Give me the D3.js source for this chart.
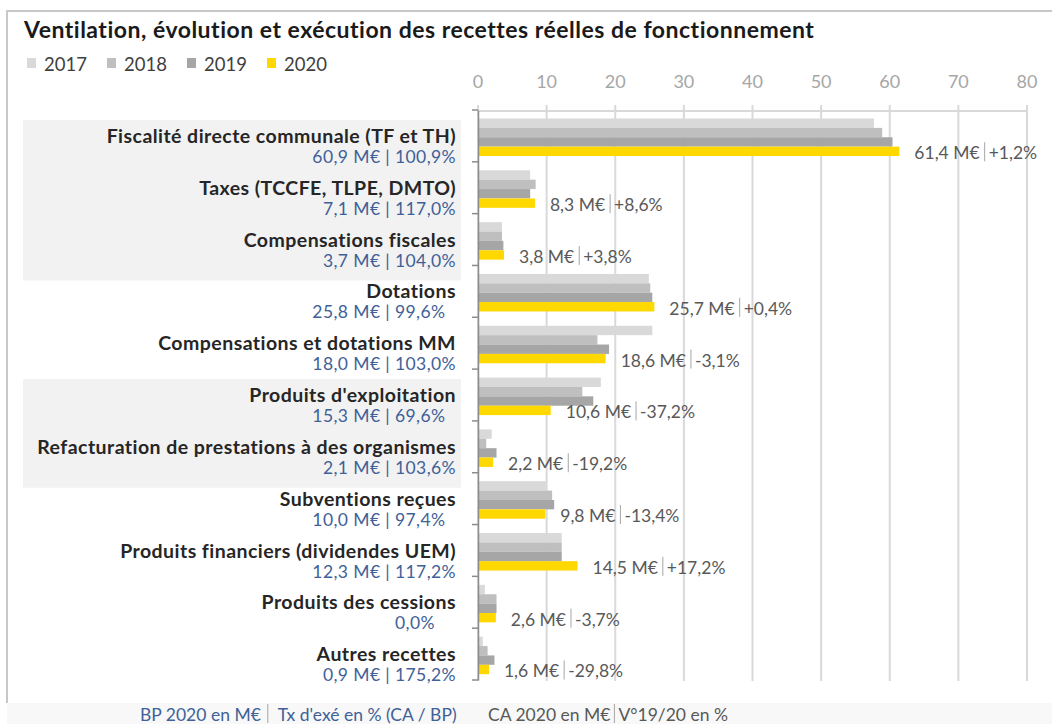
<!DOCTYPE html>
<html lang="fr">
<head>
<meta charset="utf-8">
<title>Recettes réelles de fonctionnement</title>
<script src="https://d3js.org/d3.v7.min.js"></script>
<style>
  body { margin: 0; background: #fff; }
  svg { display: block; font-family: Lato, "Open Sans", sans-serif; }
  text { white-space: pre; }
</style>
</head>
<body>
<script>
// categories, top to bottom
var categories = [
  "Fiscalité directe communale (TF et TH)",
  "Taxes (TCCFE, TLPE, DMTO)",
  "Compensations fiscales",
  "Dotations",
  "Compensations et dotations MM",
  "Produits d'exploitation",
  "Refacturation de prestations à des organismes",
  "Subventions reçues",
  "Produits financiers (dividendes UEM)",
  "Produits des cessions",
  "Autres recettes"
];
var years = ["2017", "2018", "2019", "2020"];
var yearColors = ["#d9d9d9", "#bfbfbf", "#a6a6a6", "#ffd800"];

// M€ per year
var v2017 = [57.7, 7.6, 3.5, 24.9, 25.4, 17.9, 2.0, 9.9, 12.2, 1.0, 0.7];
var v2018 = [58.9, 8.4, 3.5, 25.1, 17.4, 15.2, 1.2, 10.8, 12.2, 2.7, 1.4];
var v2019 = [60.4, 7.6, 3.7, 25.4, 19.1, 16.8, 2.7, 11.1, 12.2, 2.7, 2.4];
var v2020 = [61.4, 8.3, 3.8, 25.7, 18.6, 10.6, 2.2, 9.8, 14.5, 2.6, 1.6];
var var1920 = ["+1,2%", "+8,6%", "+3,8%", "+0,4%", "-3,1%", "-37,2%", "-19,2%", "-13,4%", "+17,2%", "-3,7%", "-29,8%"];

// BP 2020 and execution rate
var bp2020 = [60.9, 7.1, 3.7, 25.8, 18.0, 15.3, 2.1, 10.0, 12.3, null, 0.9];
var txExe = [100.9, 117.0, 104.0, 99.6, 103.0, 69.6, 103.6, 97.4, 117.2, 0.0, 175.2];

var xTicks = [0, 10, 20, 30, 40, 50, 60, 70, 80];
var shaded = [[0, 2], [5, 6]];

var series = [v2017, v2018, v2019, v2020];
var fr = function (v) { return d3.format(".1f")(v).replace(".", ","); };

var w = 1052, h = 724;
var svg = d3.select("body").append("svg").attr("width", w).attr("height", h);

// footer strip + frame
svg.append("rect").attr("x", 7).attr("y", 703).attr("width", w).attr("height", 30).attr("fill", "#f8f8f8");
svg.append("path").attr("d", "M7,703 V11 H" + (w + 5))
  .attr("fill", "none").attr("stroke", "#c8c8c8").attr("stroke-width", 2);

var xScale = d3.scaleLinear().domain([0, 80]).range([478, 1027]);
var yScale = d3.scaleBand().domain(categories).range([110, 680]);
var yearScale = d3.scaleBand().domain(years).range([8.5, 46]);

// shaded label panels
shaded.forEach(function (s) {
  var y0 = yScale(categories[s[0]]) + 10;
  var y1 = yScale(categories[s[1]]) + yScale.bandwidth() + 15;
  svg.append("rect").attr("x", 23).attr("y", y0).attr("width", 438).attr("height", y1 - y0).attr("fill", "#f2f2f2");
});

// title
svg.append("text").attr("x", 24).attr("y", 38)
  .style("font-size", "23px").style("font-weight", "bold").style("letter-spacing", "0.5px").attr("fill", "#1a1a1a")
  .text("Ventilation, évolution et exécution des recettes réelles de fonctionnement");

// legend
var leg = svg.append("g").selectAll("g").data(years).enter().append("g")
  .attr("transform", function (d, i) { return "translate(" + (27 + i * 80) + ",0)"; });
leg.append("rect").attr("y", 58).attr("width", 9).attr("height", 10)
  .attr("fill", function (d, i) { return yearColors[i]; });
leg.append("text").attr("x", 17).attr("y", 71).style("font-size", "18.5px").attr("fill", "#404040")
  .text(function (d) { return d; });

// top axis + grid
var gx = svg.append("g");
gx.selectAll("line.grid").data(xTicks).enter().append("line")
  .attr("x1", xScale).attr("x2", xScale).attr("y1", 105).attr("y2", 681)
  .attr("stroke", "#d9d9d9").attr("stroke-width", 2);
gx.append("line").attr("x1", xScale(0)).attr("x2", xScale(80)).attr("y1", 111).attr("y2", 111)
  .attr("stroke", "#d9d9d9").attr("stroke-width", 2);
gx.selectAll("text").data(xTicks).enter().append("text")
  .attr("x", xScale).attr("y", 88).attr("text-anchor", "middle")
  .style("font-size", "18px").attr("fill", "#a6a6a6")
  .text(function (d) { return d; });

// bars
var rows = svg.append("g").selectAll("g").data(categories).enter().append("g")
  .attr("transform", function (d) { return "translate(0," + yScale(d) + ")"; });

rows.selectAll("rect").data(function (d, i) {
  return series.map(function (s, k) { return { year: years[k], value: s[i], k: k }; });
}).enter().append("rect")
  .attr("x", xScale(0))
  .attr("y", function (d) { return yearScale(d.year); })
  .attr("height", yearScale.bandwidth())
  .attr("width", function (d) { return xScale(d.value) - xScale(0); })
  .attr("fill", function (d) { return yearColors[d.k]; });

// left axis
var yAxis = d3.axisLeft(yScale).tickSize(0).tickFormat("");
svg.append("g").attr("transform", "translate(" + xScale(0) + ",0)").call(yAxis)
  .select(".domain").attr("stroke", "#8c8c8c").attr("stroke-width", 1.5);
svg.append("g").selectAll("line").data(d3.range(categories.length + 1)).enter().append("line")
  .attr("x1", xScale(0) - 6).attr("x2", xScale(0))
  .attr("y1", function (i) { return 110 + i * yScale.step(); })
  .attr("y2", function (i) { return 110 + i * yScale.step(); })
  .attr("stroke", "#8c8c8c").attr("stroke-width", 1.5);

// category labels
rows.append("text").attr("x", 456).attr("y", 33).attr("text-anchor", "end")
  .style("font-size", "19.5px").style("font-weight", "bold").style("letter-spacing", "0.45px").attr("fill", "#262626")
  .text(function (d) { return d; });
rows.append("text").attr("x", 456).attr("y", 53).attr("text-anchor", "end")
  .style("font-size", "17.5px").style("letter-spacing", "0.4px").attr("fill", "#3f6198")
  .text(function (d, i) {
    var t = fr(txExe[i]);
    var pad = "\u2007".repeat(Math.max(0, 5 - t.length));
    var p = t + "%" + pad;
    return bp2020[i] == null ? p : fr(bp2020[i]) + " M€ | " + p;
  });

// value labels: CA 2020 | variation
function splitLabel(g, x, y, a, b, col, size, gap) {
  var t1 = g.append("text").attr("x", x).attr("y", y).style("font-size", size).attr("fill", col).text(a);
  var sx = x + t1.node().getComputedTextLength() + gap[0];
  g.append("line").attr("x1", sx).attr("x2", sx).attr("y1", y - 17).attr("y2", y + 2)
    .attr("stroke", "#a6a6a6").attr("stroke-width", 1);
  g.append("text").attr("x", sx + gap[1]).attr("y", y).style("font-size", size).attr("fill", col).text(b);
}
rows.each(function (d, i) {
  var y = yearScale("2020") + yearScale.bandwidth() / 2 + 8;
  splitLabel(d3.select(this), xScale(v2020[i]) + 15, y, fr(v2020[i]) + " M€", var1920[i], "#595959", "17.5px", [5, 4]);
});

// footer
var foot = svg.append("g");
splitLabel(foot, 140, 721, "BP 2020 en M€", "Tx d'exé en % (CA / BP)", "#3f6198", "17.5px", [7, 10]);
splitLabel(foot, 488, 721, "CA 2020 en M€", "V°19/20 en %", "#595959", "17.5px", [4, 4]);
</script>
</body>
</html>
